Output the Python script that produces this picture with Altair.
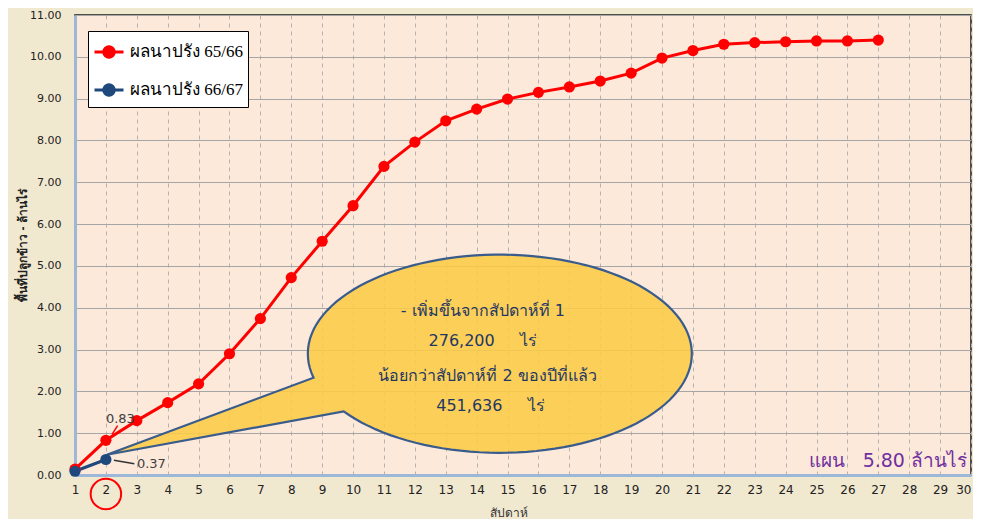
import altair as alt
import pandas as pd
import numpy as np

# ---------------- data ----------------
series_names = ["ผลนาปรัง 65/66", "ผลนาปรัง 66/67"]
series_colors = ["#FF0000", "#1F497D"]

weeks_6566 = list(range(1, 28))
area_6566 = [0.14, 0.83, 1.30, 1.73, 2.18, 2.90, 3.74, 4.72, 5.59, 6.44,
             7.38, 7.96, 8.47, 8.75, 8.99, 9.15, 9.28, 9.42, 9.61, 9.97,
             10.15, 10.30, 10.34, 10.36, 10.38, 10.38, 10.40]
weeks_6667 = [1, 2]
area_6667 = [0.09, 0.37]

x_ticks = list(range(1, 31))
y_ticks = list(range(0, 12))

NB = "\u00a0"
callout_lines = ["- เพิ่มขึ้นจากสัปดาห์ที่ 1", "276,200" + NB * 5 + "ไร่",
                 "น้อยกว่าสัปดาห์ที่ 2 ของปีที่แล้ว", "451,636" + NB * 5 + "ไร่"]
callout_line_x = [14.2, 14.2, 14.35, 14.45]
callout_line_y = [3.91, 3.21, 2.37, 1.65]
callout_center = [14.75, 2.90]

plan_text = "แผน" + NB * 3 + "5.80 ล้านไร่"
x_title = "สัปดาห์"
y_title = "พื้นที่ปลูกข้าว - ล้านไร่"

# ---------------- frames ----------------
df = pd.DataFrame({
    "week": weeks_6566 + weeks_6667,
    "area": area_6566 + area_6667,
    "series": [series_names[0]] * len(weeks_6566) + [series_names[1]] * len(weeks_6667),
})

W, H = 896, 460
x_scale = alt.Scale(domain=[1, 30], nice=False, zero=False)
y_scale = alt.Scale(domain=[0, 11], nice=False)
color_scale = alt.Scale(domain=series_names, range=series_colors)

# legend symbol: short line with a dot
circ = np.linspace(0, 2 * np.pi, 25)
dot = " ".join(("M" if i == 0 else "L") + f" {0.36*np.cos(a):.3f} {0.36*np.sin(a):.3f}"
               for i, a in enumerate(circ)) + " Z"
legend_symbol = "M -1 0 L 1 0 " + dot

x_axis = alt.Axis(values=x_ticks, grid=True, gridDash=[4, 4], gridColor="#B2B2B2",
                  gridWidth=1, domainColor="#9DB7D8", domainWidth=3, ticks=False,
                  labelFontSize=12, labelColor="#222222", labelPadding=9,
                  labelOverlap=False, labelFlush=False, labelBound=False,
                  labelAlign={"expr": "datum.value == 30 ? 'right' : 'center'"},
                  labelFont="DejaVu Sans", title=x_title, titleFontSize=12,
                  titleFontWeight="normal", titleColor="#333333", titlePadding=12,
                  titleX=W / 2 - 15)
y_axis = alt.Axis(values=y_ticks, format=".2f", grid=True, gridColor="#A6A6A6",
                  gridWidth=1.2, domainColor="#9DB7D8", domainWidth=3, ticks=False,
                  labelFontSize=11, labelColor="#222222", labelPadding=14,
                  labelOverlap=False, labelFlush=False,
                  labelFont="DejaVu Sans", title=y_title, titleFontSize=12,
                  titleFontWeight="bold", titleColor="#222222", titlePadding=0)

legend = alt.Legend(title=None, orient="none", legendX=13, legendY=16,
                    symbolType=legend_symbol, symbolSize=841, symbolStrokeWidth=3,
                    labelFontSize=17, labelFont="Liberation Serif", labelColor="#000000",
                    labelOffset=5, rowPadding=10, padding=5, fillColor="#FFFFFF",
                    strokeColor="#000000", cornerRadius=0, labelLimit=300,
                    symbolOpacity=1)

X = lambda f: alt.X(f, scale=x_scale, axis=x_axis)
Y = lambda f: alt.Y(f, scale=y_scale, axis=y_axis)

# callout shape (ellipse + tail), in symbol units (1 unit = 192 px)
ry = 0.516
t = np.linspace(2.897, 2 * np.pi + 2.521, 120)
pts = [(np.cos(a), ry * np.sin(a)) for a in t]
callout_path = "M " + " L ".join(f"{px:.4f} {py:.4f}" for px, py in pts) + " L -2.047 0.526 Z"

callout_df = pd.DataFrame({"x": [callout_center[0]], "y": [callout_center[1]]})
callout = alt.Chart(callout_df).mark_point(
    shape=callout_path, size=384 ** 2, filled=True, fill="#FCCB45", fillOpacity=0.88,
    stroke="#3A5C8C", strokeWidth=2.2, strokeOpacity=1, opacity=1
).encode(x=X("x:Q"), y=Y("y:Q"))

callout_text_df = pd.DataFrame({"x": callout_line_x, "y": callout_line_y, "t": callout_lines})
callout_text = alt.Chart(callout_text_df).mark_text(
    fontSize=16, color="#1F3864", align="center", baseline="middle", font="DejaVu Sans"
).encode(x=X("x:Q"), y=Y("y:Q"), text="t:N")

lines = alt.Chart(df).mark_line(strokeWidth=3).encode(
    x=X("week:Q"), y=Y("area:Q"),
    color=alt.Color("series:N", scale=color_scale, legend=legend),
)
points = alt.Chart(df).mark_point(filled=True, size=125, opacity=1).encode(
    x=X("week:Q"), y=Y("area:Q"),
    color=alt.Color("series:N", scale=color_scale, legend=legend),
)

# data labels for week 2
lab_df = pd.DataFrame({"week": [2, 2], "area": [area_6566[1], area_6667[1]],
                       "t": [f"{area_6566[1]:.2f}", f"{area_6667[1]:.2f}"]})
lab83 = alt.Chart(lab_df.iloc[[0]]).mark_text(
    fontSize=13, color="#404040", align="left", baseline="middle", dx=0, dy=-21,
    font="DejaVu Sans").encode(x=X("week:Q"), y=Y("area:Q"), text="t:N")
lab37 = alt.Chart(lab_df.iloc[[1]]).mark_text(
    fontSize=13, color="#404040", align="left", baseline="middle", dx=31, dy=4,
    font="DejaVu Sans").encode(x=X("week:Q"), y=Y("area:Q"), text="t:N")

leader_df = pd.DataFrame({"x": [2.2, 2.26], "y": [0.97, 0.35], "x2": [2.38, 2.92],
                          "y2": [1.18, 0.27], "c": ["#FF0000", "#333333"]})
leaders = alt.Chart(leader_df).mark_rule(strokeWidth=1.5).encode(
    x=X("x:Q"), y=Y("y:Q"),
    x2="x2:Q", y2="y2:Q", color=alt.Color("c:N", scale=None))

# red circle around axis label "2"
circle_df = pd.DataFrame({"x": [2], "y": [-0.455]})
red_circle = alt.Chart(circle_df).mark_point(
    shape="circle", size=930, filled=False, stroke="#FF0000", strokeWidth=2, opacity=1
).encode(x=X("x:Q"), y=Y("y:Q"))

plan_df = pd.DataFrame({"x": [30], "y": [0.33], "t": [plan_text]})
plan = alt.Chart(plan_df).mark_text(
    fontSize=19, color="#7030A0", align="right", baseline="middle", dx=-4,
    font="DejaVu Sans").encode(x=X("x:Q"), y=Y("y:Q"), text="t:N")

chart = alt.layer(callout, callout_text, lines, points, leaders, lab83, lab37,
                  red_circle, plan).properties(
    width=W, height=H,
    autosize=alt.AutoSizeParams(type="none"),
    padding={"left": 67, "top": 7, "right": 2, "bottom": 44},
    background="#F1E8D0",
).configure_view(fill="#FDE9DA", stroke="#1A1A1A", strokeWidth=1.5
).configure_axis(labelOverlap=False)

chart.save("out.html", embed_options={"renderer": "svg", "actions": False})
